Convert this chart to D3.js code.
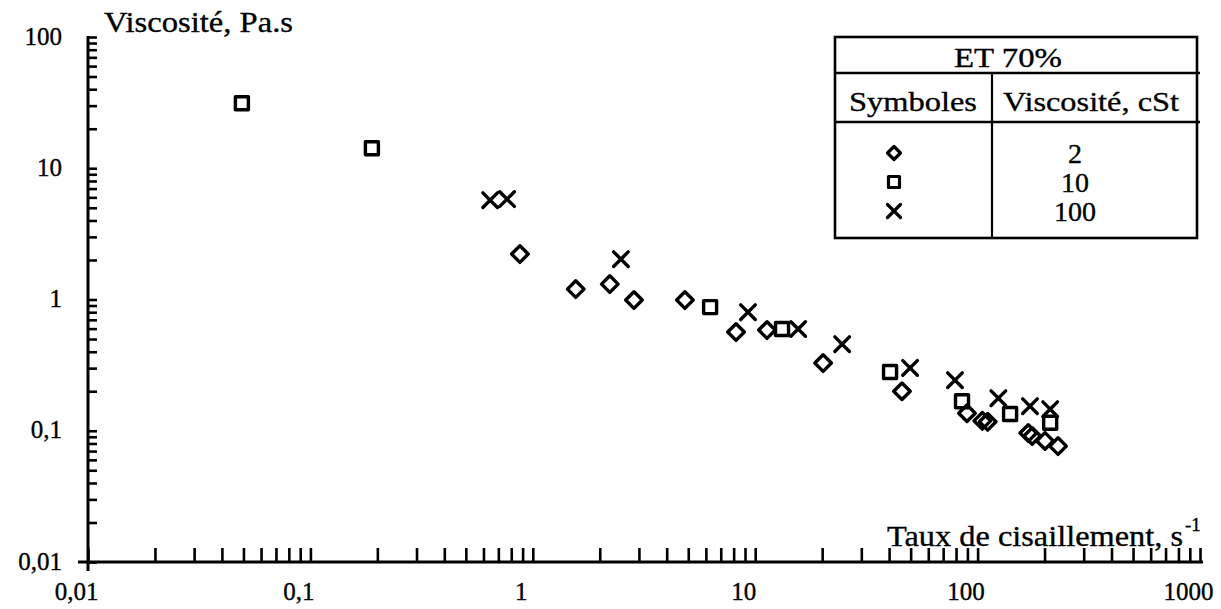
<!DOCTYPE html>
<html>
<head>
<meta charset="utf-8">
<script src="https://cdn.jsdelivr.net/npm/d3@7"></script>
<style>
  html, body { margin: 0; padding: 0; background: #fff; }
  svg { display: block; }
  text { font-family: "Liberation Serif", "Times New Roman", serif; fill: #000; stroke: #000; stroke-width: 0.35px; }
</style>
</head>
<body>
<svg id="chart" width="1221" height="609"></svg>
<script>
// ---- Data ----
const xTickValues = [0.01, 0.1, 1, 10, 100, 1000];
const xTickLabels = ["0,01", "0,1", "1", "10", "100", "1000"];
const yTickValues = [0.01, 0.1, 1, 10, 100];
const yTickLabels = ["0,01", "0,1", "1", "10", "100"];

// 2 cSt (diamonds): shear rate s-1, viscosity Pa.s
const d2x = [0.875, 1.56, 2.22, 2.85, 4.83, 8.2, 11.3, 20.2, 45.7, 89.6, 105, 111, 169, 176, 201, 230];
const d2y = [2.22, 1.20, 1.31, 0.99, 0.99, 0.565, 0.585, 0.328, 0.200, 0.136, 0.119, 0.117, 0.096, 0.0912, 0.0836, 0.0764];

// 10 cSt (squares)
const d10x = [0.0492, 0.189, 6.27, 13.2, 40.4, 85.1, 140, 212];
const d10y = [31.3, 14.2, 0.875, 0.596, 0.280, 0.168, 0.134, 0.115];

// 100 cSt (crosses)
const d100x = [0.643, 0.766, 2.49, 9.28, 15.6, 24.6, 49.7, 79.1, 124, 172, 212];
const d100y = [5.71, 5.82, 2.03, 0.80, 0.596, 0.457, 0.301, 0.243, 0.177, 0.154, 0.146];

const legendTitle = "ET 70%";
const legendHeaders = ["Symboles", "Viscosité, cSt"];
const legendValues = ["2", "10", "100"];
const legendShapes = ["diamond", "square", "cross"];

// ---- Layout ----
const svg = d3.select("#chart");
const x = d3.scaleLog().domain([0.01, 1000]).range([88, 1200]);
const y = d3.scaleLog().domain([0.01, 100]).range([562, 37]);

const minorX = [];
[0.01, 0.1, 1, 10, 100].forEach(d => { for (let k = 1; k <= 9; k++) minorX.push(d * k); });
minorX.push(1000);
const minorY = [];
[0.01, 0.1, 1, 10].forEach(d => { for (let k = 1; k <= 9; k++) minorY.push(d * k); });
minorY.push(100);

// X ticks (pointing up)
const gx = svg.append("g").attr("transform", `translate(0,${y(0.01)})`)
  .call(d3.axisTop(x).tickValues(minorX).tickSize(14).tickFormat(""));
gx.select(".domain").remove();
gx.selectAll(".tick line").attr("stroke", "#000").attr("stroke-width", 2.6);

// Y ticks (pointing right)
const gy = svg.append("g").attr("transform", `translate(${x(0.01)},0)`)
  .call(d3.axisRight(y).tickValues(minorY).tickSize(9).tickFormat(""));
gy.select(".domain").remove();
gy.selectAll(".tick line").attr("stroke", "#000").attr("stroke-width", 2.6);

// Axis lines
svg.append("line").attr("x1", 78).attr("x2", 1203).attr("y1", y(0.01)).attr("y2", y(0.01))
  .attr("stroke", "#000").attr("stroke-width", 3);
svg.append("line").attr("x1", x(0.01)).attr("x2", x(0.01)).attr("y1", y(100) - 1).attr("y2", 571)
  .attr("stroke", "#000").attr("stroke-width", 3);

// X tick labels
const gxl = svg.append("g").attr("transform", `translate(0,${y(0.01)})`)
  .call(d3.axisBottom(x).tickValues(xTickValues).tickSize(0)
    .tickFormat((d, i) => xTickLabels[i]));
gxl.select(".domain").remove();
gxl.selectAll(".tick text")
  .attr("font-family", "Liberation Serif").attr("font-size", 25)
  .attr("dx", -12).attr("dy", 0).attr("y", 38).attr("fill", "#000");

// Y tick labels
const gyl = svg.append("g").attr("transform", `translate(${x(0.01)},0)`)
  .call(d3.axisLeft(y).tickValues(yTickValues).tickSize(0)
    .tickFormat((d, i) => yTickLabels[i]));
gyl.select(".domain").remove();
gyl.selectAll(".tick text")
  .attr("font-family", "Liberation Serif").attr("font-size", 25)
  .attr("x", -26).attr("dy", "0.28em").attr("fill", "#000");

// Axis titles
svg.append("text").attr("x", 104).attr("y", 32).attr("font-size", 30)
  .attr("textLength", 189).attr("lengthAdjust", "spacingAndGlyphs")
  .text("Viscosité, Pa.s");
svg.append("text").attr("x", 887).attr("y", 546).attr("font-size", 30)
  .attr("textLength", 296).attr("lengthAdjust", "spacingAndGlyphs")
  .text("Taux de cisaillement, s");
svg.append("text").attr("x", 1185).attr("y", 531).attr("font-size", 19)
  .text("-1");

// ---- Markers ----
function markerPath(shape, s) {
  if (shape === "diamond") return `M0,${-s}L${s},0L0,${s}L${-s},0Z`;
  if (shape === "square") return `M${-s},${-s}H${s}V${s}H${-s}Z`;
  return `M${-s},${-s}L${s},${s}M${s},${-s}L${-s},${s}`;
}
function drawSeries(xs, ys, shape, s) {
  svg.append("g").selectAll("path")
    .data(xs.map((v, i) => [v, ys[i]]))
    .join("path")
    .attr("transform", d => `translate(${x(d[0])},${y(d[1])})`)
    .attr("d", markerPath(shape, s))
    .attr("fill", "none").attr("stroke", "#000").attr("stroke-width", 3.4)
    .attr("stroke-linecap", "round").attr("stroke-linejoin", "round");
}
drawSeries(d2x, d2y, "diamond", 8.3);
drawSeries(d10x, d10y, "square", 6.5);
drawSeries(d100x, d100y, "cross", 7.3);

// ---- Legend table ----
const L = { x0: 835, x1: 1197, y0: 37, y1: 238, h1: 73, h2: 122, col: 992 };
const lg = svg.append("g");
lg.append("rect").attr("x", L.x0).attr("y", L.y0).attr("width", L.x1 - L.x0).attr("height", L.y1 - L.y0)
  .attr("fill", "#fff").attr("stroke", "#000").attr("stroke-width", 2.6);
lg.append("line").attr("x1", L.x0).attr("x2", L.x1 + 3).attr("y1", L.h1).attr("y2", L.h1)
  .attr("stroke", "#000").attr("stroke-width", 2.6);
lg.append("line").attr("x1", L.x0).attr("x2", L.x1 + 3).attr("y1", L.h2).attr("y2", L.h2)
  .attr("stroke", "#000").attr("stroke-width", 2.6);
lg.append("line").attr("x1", L.col).attr("x2", L.col).attr("y1", L.h1).attr("y2", L.y1)
  .attr("stroke", "#000").attr("stroke-width", 2.2);

lg.append("text").attr("x", 1008).attr("y", 67).attr("font-size", 28).attr("text-anchor", "middle")
  .attr("textLength", 108).attr("lengthAdjust", "spacingAndGlyphs").text(legendTitle);
lg.append("text").attr("x", 913).attr("y", 111).attr("font-size", 28).attr("text-anchor", "middle")
  .attr("textLength", 128).attr("lengthAdjust", "spacingAndGlyphs").text(legendHeaders[0]);
lg.append("text").attr("x", 1091).attr("y", 111).attr("font-size", 28).attr("text-anchor", "middle")
  .attr("textLength", 176).attr("lengthAdjust", "spacingAndGlyphs").text(legendHeaders[1]);

const rowY = [153, 182, 211];
const legSize = [6.5, 5.5, 6.5];
legendValues.forEach((v, i) => {
  lg.append("path").attr("transform", `translate(894,${rowY[i]})`)
    .attr("d", markerPath(legendShapes[i], legSize[i]))
    .attr("fill", "none").attr("stroke", "#000").attr("stroke-width", 3.2)
    .attr("stroke-linecap", "round").attr("stroke-linejoin", "round");
  lg.append("text").attr("x", 1075).attr("y", rowY[i]).attr("dy", "0.35em")
    .attr("font-size", 28).attr("text-anchor", "middle").text(v);
});
</script>
</body>
</html>
